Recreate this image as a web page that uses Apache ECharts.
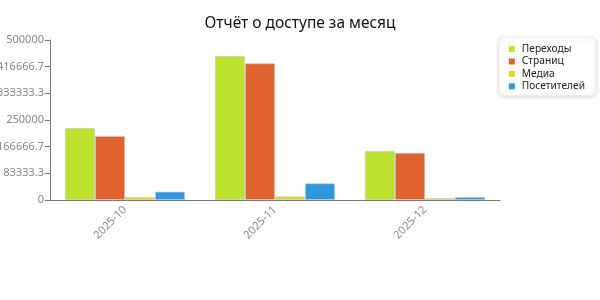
<!DOCTYPE html>
<html><head><meta charset="utf-8">
<script src="https://cdn.jsdelivr.net/npm/echarts@6/dist/echarts.min.js"></script>
<style>html,body{margin:0;padding:0;background:#fff}#c{width:600px;height:300px}</style>
</head><body><div id="c"></div>
<script>
const categories = ['2025-10', '2025-11', '2025-12'];
const seriesNames = ['Переходы', 'Страниц', 'Медиа', 'Посетителей'];
const perehody = [225000, 450000, 153000];
const stranic = [200000, 427000, 147000];
const media = [9500, 11500, 6000];
const posetiteley = [26000, 52000, 9000];
const yTicks = [0, 83333.3, 166666.7, 250000, 333333.3, 416666.7, 500000];
const colors = ['#bce22d', '#e0632e', '#e6d62a', '#2f96e0'];
const values = [perehody, stranic, media, posetiteley];

const chart = echarts.init(document.getElementById('c'), null, {renderer: 'canvas'});
const font = 'Noto Sans';
chart.setOption({
  animation: false,
  textStyle: {fontFamily: font},
  title: {text: 'Отчёт о доступе за месяц', left: 'center', top: 11,
    textStyle: {fontFamily: font, fontSize: 15.5, fontWeight: 'normal', color: '#111'}},
  legend: {orient: 'vertical', right: 4, top: 37, itemWidth: 6, itemHeight: 6, itemGap: 0.2,
    icon: 'rect', backgroundColor: '#fff', borderColor: '#eee', borderWidth: 1, borderRadius: 5,
    padding: [6, 11, 3, 10], shadowBlur: 4, shadowColor: 'rgba(0,0,0,0.15)', shadowOffsetY: 1,
    itemStyle: {borderWidth: 0},
    textStyle: {fontFamily: font, fontSize: 10.2, lineHeight: 12.2, color: '#222', padding: [0,0,0,2]},
    data: seriesNames},
  grid: {left: 50, right: 100, top: 40, bottom: 100, containLabel: false, outerBoundsMode: 'none'},
  xAxis: {type: 'category', data: categories,
    axisLine: {lineStyle: {color: '#777'}},
    axisTick: {alignWithLabel: true, length: 5, lineStyle: {color: '#777'}},
    axisLabel: {rotate: 45, color: '#888', fontSize: 11, margin: 8, fontFamily: font}},
  yAxis: {type: 'value', min: 0, max: 500000, interval: 500000 / 6,
    axisLine: {show: true, lineStyle: {color: '#777'}},
    axisTick: {show: true, length: 5, lineStyle: {color: '#777'}},
    splitLine: {show: false},
    axisLabel: {color: '#888', fontSize: 11, margin: 6, fontFamily: font,
      formatter: v => { let best = yTicks.reduce((a, b) => Math.abs(b - v) < Math.abs(a - v) ? b : a); return String(best); }}},
  series: seriesNames.map((n, i) => ({
    name: n, type: 'bar', data: values[i], barGap: '0%', barCategoryGap: '20%',
    itemStyle: {color: colors[i], borderColor: 'rgba(200,200,200,0.8)', borderWidth: 0.8}
  }))
});
</script></body></html>
